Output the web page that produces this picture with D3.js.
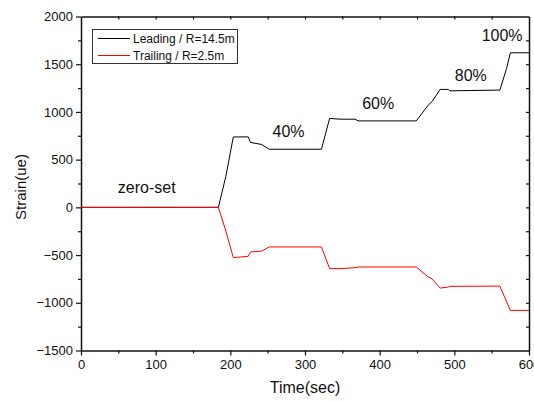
<!DOCTYPE html>
<html>
<head>
<meta charset="utf-8">
<script src="https://cdn.jsdelivr.net/npm/d3@7"></script>
<style>
  body { margin: 0; background: #fff; }
  svg text { font-family: Arial, "Liberation Sans", sans-serif; fill: #111; }
</style>
</head>
<body>
<svg id="chart"></svg>
<script>
// time (sec) and strain (ue)
var leadTime = [0, 184, 194, 204, 224, 227, 242, 252, 322, 333, 347, 367, 371, 449, 465, 470, 481, 492, 494, 561, 570, 575, 600];
var leadStrain = [0, 0, 325, 738, 738, 680, 659, 609, 609, 932, 924, 924, 906, 906, 1071, 1106, 1236, 1236, 1221, 1229, 1456, 1620, 1620];

var trailTime = [0, 184, 194, 204, 224, 227, 242, 252, 322, 333, 347, 367, 371, 449, 465, 470, 481, 492, 494, 561, 575, 600];
var trailStrain = [0, 0, -248, -527, -513, -468, -458, -415, -415, -642, -642, -632, -625, -625, -730, -748, -846, -835, -828, -825, -1080, -1080];

var xTicks = [0, 100, 200, 300, 400, 500, 600];
var yTicks = [-1500, -1000, -500, 0, 500, 1000, 1500, 2000];

var stageLabels = ['zero-set', '40%', '60%', '80%', '100%'];
var stageTime = [88, 278, 398, 522, 564];
var stageStrain = [147, 740, 1028, 1327, 1747];

var seriesNames = ['Leading / R=14.5m', 'Trailing / R=2.5m'];
var seriesColors = ['#000', '#f00'];

function drawChart() {
  var W = 534, H = 401;
  var margin = { top: 16.5, right: 5, bottom: 50.5, left: 81 };
  var chart = d3.select('#chart')
    .attr('width', W)
    .attr('height', H);

  var x = d3.scaleLinear().domain([0, 600]).range([margin.left, W - margin.right]);
  var y = d3.scaleLinear().domain([-1500, 2000]).range([H - margin.bottom, margin.top]);

  // minor ticks first, then major on top
  chart.append('g')
    .attr('transform', `translate(0,${y(-1500)})`)
    .call(d3.axisBottom(x).tickValues(d3.range(50, 600, 100)).tickSize(3).tickFormat(''))
    .call(g => g.select('.domain').remove());
  chart.append('g')
    .attr('transform', `translate(${x(0)},0)`)
    .call(d3.axisLeft(y).tickValues(d3.range(-1250, 2000, 500)).tickSize(3).tickFormat(''))
    .call(g => g.select('.domain').remove());

  chart.append('g')
    .attr('transform', `translate(0,${y(-1500)})`)
    .call(d3.axisBottom(x).tickValues(xTicks).tickSize(5).tickSizeOuter(0).tickPadding(4).tickFormat(d3.format('d')));
  chart.append('g')
    .attr('transform', `translate(${x(0)},0)`)
    .call(d3.axisLeft(y).tickValues(yTicks).tickSize(5).tickSizeOuter(0).tickPadding(3).tickFormat(d3.format('d')));

  // top and right frame with inward ticks
  chart.append('g')
    .attr('transform', `translate(0,${y(2000)})`)
    .call(d3.axisTop(x).tickValues(d3.range(50, 600, 50)).tickSize(-3).tickSizeOuter(0).tickFormat(''));
  chart.append('g')
    .attr('transform', `translate(${x(600)},0)`)
    .call(d3.axisRight(y).tickValues(d3.range(-1250, 2000, 250)).tickSize(-3).tickSizeOuter(0).tickFormat(''));

  chart.selectAll('.domain').attr('stroke', '#111').attr('stroke-width', 1.5);
  chart.selectAll('.tick line').attr('stroke', '#111').attr('stroke-width', 1.2);
  chart.selectAll('.tick text').style('font-size', '13px').attr('fill', '#111');

  // series
  var line = d3.line().x(d => x(d[0])).y(d => y(d[1]));
  var series = [d3.zip(leadTime, leadStrain), d3.zip(trailTime, trailStrain)];
  chart.selectAll('path.series')
    .data(series).enter()
    .append('path')
    .attr('class', 'series')
    .attr('d', line)
    .attr('fill', 'none')
    .attr('stroke', (d, i) => seriesColors[i])
    .attr('stroke-width', 1);

  // stage labels
  chart.selectAll('text.stage')
    .data(stageLabels).enter()
    .append('text')
    .attr('class', 'stage')
    .attr('x', (d, i) => x(stageTime[i]))
    .attr('y', (d, i) => y(stageStrain[i]))
    .attr('text-anchor', 'middle')
    .style('font-size', '16px')
    .text(d => d);

  // legend
  var lg = chart.append('g');
  lg.append('rect')
    .attr('x', 92.5).attr('y', 29.5)
    .attr('width', 145).attr('height', 34)
    .attr('fill', '#fff').attr('stroke', '#333').attr('stroke-width', 1);
  seriesNames.forEach(function (name, i) {
    var ly = 38.5 + i * 17;
    lg.append('line')
      .attr('x1', 98).attr('x2', 130)
      .attr('y1', ly).attr('y2', ly)
      .attr('stroke', seriesColors[i]).attr('stroke-width', 1);
    lg.append('text')
      .attr('x', 133).attr('y', ly + 4.5)
      .style('font-size', '12px')
      .text(name);
  });

  // axis titles
  chart.append('text')
    .attr('x', 305).attr('y', 393)
    .attr('text-anchor', 'middle')
    .style('font-size', '16px')
    .text('Time(sec)');
  chart.append('text')
    .attr('transform', 'translate(26,187) rotate(-90)')
    .attr('text-anchor', 'middle')
    .style('font-size', '15px')
    .text('Strain(ue)');
}

drawChart();
</script>
</body>
</html>
